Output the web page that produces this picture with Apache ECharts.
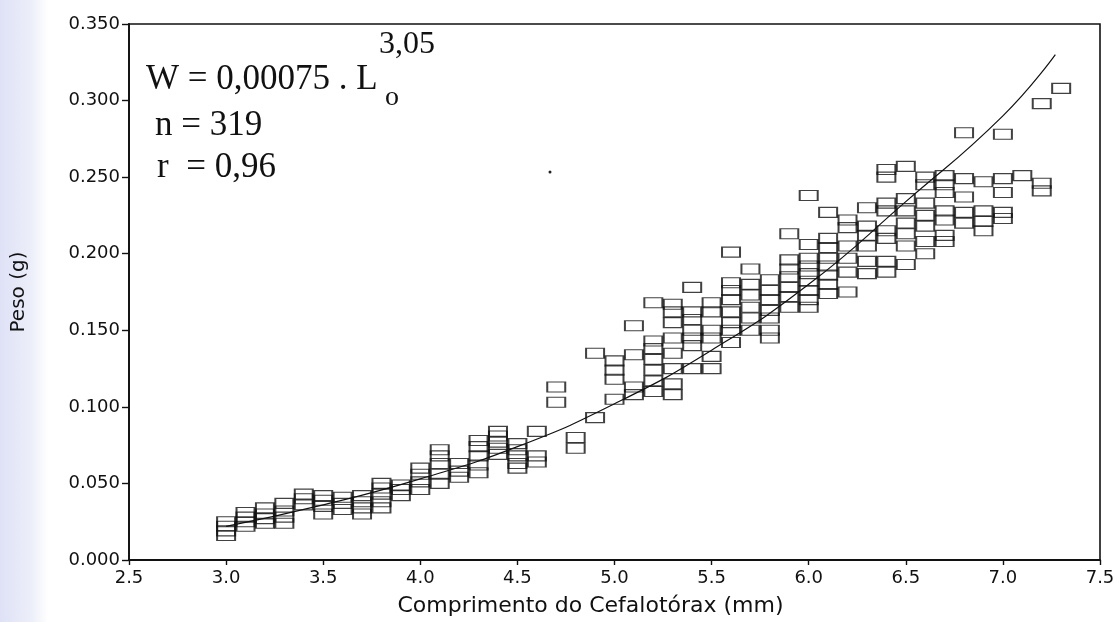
<!DOCTYPE html>
<html>
<head>
<meta charset="utf-8">
<script src="https://cdn.jsdelivr.net/npm/echarts@6/dist/echarts.min.js"></script>
<style>html,body{margin:0;padding:0;background:#fff;}#c{width:1119px;height:622px;}</style>
</head>
<body>
<div id="c"></div>
<script>
// Carapace length classes (mm)
const lengths = [3.0,3.1,3.2,3.3,3.4,3.5,3.6,3.7,3.8,3.9,4.0,4.1,4.2,4.3,4.4,4.5,4.6,4.7,4.8,4.9,5.0,5.1,5.2,5.3,5.4,5.5,5.6,5.7,5.8,5.9,6.0,6.1,6.2,6.3,6.4,6.5,6.6,6.7,6.8,6.9,7.0,7.1,7.2,7.3];
// Weights (g) observed for each length class, same order as lengths
const weights = [
  [0.016,0.019,0.022,0.025],
  [0.022,0.025,0.028,0.031],
  [0.024,0.027,0.030,0.034],
  [0.024,0.028,0.032,0.037],
  [0.036,0.040,0.043],
  [0.030,0.035,0.039,0.042],
  [0.033,0.037,0.041],
  [0.030,0.034,0.038,0.042],
  [0.034,0.038,0.043,0.047,0.050],
  [0.042,0.046,0.049],
  [0.046,0.051,0.056,0.060],
  [0.050,0.056,0.063,0.068,0.072],
  [0.054,0.058,0.063],
  [0.057,0.062,0.068,0.074,0.078],
  [0.069,0.073,0.077,0.081,0.084],
  [0.060,0.063,0.068,0.072,0.076],
  [0.064,0.068,0.084],
  [0.103,0.113],
  [0.073,0.080],
  [0.093,0.135],
  [0.105,0.118,0.124,0.130],
  [0.108,0.113,0.134,0.153],
  [0.110,0.117,0.124,0.131,0.138,0.143,0.168],
  [0.108,0.115,0.125,0.135,0.145,0.155,0.162,0.167],
  [0.125,0.140,0.145,0.150,0.157,0.162,0.178],
  [0.125,0.133,0.145,0.150,0.162,0.168],
  [0.142,0.150,0.155,0.162,0.170,0.176,0.181,0.201],
  [0.150,0.158,0.165,0.173,0.180,0.190],
  [0.145,0.150,0.158,0.163,0.170,0.176,0.183],
  [0.165,0.172,0.178,0.185,0.190,0.196,0.213],
  [0.165,0.170,0.176,0.182,0.187,0.192,0.197,0.206,0.238],
  [0.174,0.180,0.186,0.192,0.197,0.204,0.210,0.227],
  [0.175,0.188,0.197,0.205,0.217,0.222],
  [0.187,0.195,0.205,0.212,0.218,0.230],
  [0.188,0.195,0.210,0.215,0.228,0.233,0.250,0.255],
  [0.193,0.205,0.213,0.220,0.228,0.236,0.257],
  [0.200,0.208,0.218,0.225,0.233,0.245,0.250],
  [0.208,0.212,0.222,0.228,0.240,0.245,0.251],
  [0.220,0.227,0.237,0.249,0.279],
  [0.215,0.221,0.228,0.247],
  [0.223,0.227,0.240,0.249,0.278],
  [0.251],
  [0.241,0.246,0.298],
  [0.308]
];
// Fitted curve
const curveX = [3.0,3.5,4.0,4.5,5.0,5.5,6.0,6.5,7.0,7.27];
const curveY = [0.022,0.036,0.053,0.074,0.102,0.137,0.180,0.234,0.290,0.330];
const xTicks = {min:2.5,max:7.5,step:0.5};
const yTicks = {min:0,max:0.35,step:0.05};

const points = [];
lengths.forEach((L,i)=>weights[i].forEach(w=>points.push([L,w])));
const curve = curveX.map((x,i)=>[x,curveY[i]]);

const chart = echarts.init(document.getElementById('c'));
const axisColor = '#111';
const sans = '"DejaVu Sans", Verdana, sans-serif';
const serif = '"Liberation Serif", "Times New Roman", serif';
chart.setOption({
  animation:false,
  backgroundColor:'#fff',
  grid:{left:129,right:19,top:24,bottom:62,show:true,borderColor:axisColor,borderWidth:1.6,backgroundColor:'transparent'},
  xAxis:{type:'value',min:xTicks.min,max:xTicks.max,interval:xTicks.step,
    name:'Comprimento do Cefalotórax (mm)',nameLocation:'middle',nameGap:35,
    nameTextStyle:{fontFamily:sans,fontSize:22,color:'#111',padding:[0,48,0,0]},
    axisLine:{show:true,onZero:false,lineStyle:{color:axisColor,width:1.8}},
    axisTick:{show:true,inside:false,length:5,lineStyle:{color:axisColor,width:1.4}},
    axisLabel:{margin:9,fontFamily:sans,fontSize:18,color:'#111',formatter:v=>v.toFixed(1)},
    splitLine:{show:false}},
  yAxis:{type:'value',min:yTicks.min,max:yTicks.max,interval:yTicks.step,
    name:'Peso (g)',nameLocation:'middle',nameGap:100,
    nameTextStyle:{fontFamily:sans,fontSize:20,color:'#111'},
    axisLine:{show:true,onZero:false,lineStyle:{color:axisColor,width:1.8}},
    axisTick:{show:true,inside:false,length:7,lineStyle:{color:axisColor,width:1.4}},
    axisLabel:{margin:9,fontFamily:sans,fontSize:18,color:'#111',formatter:v=>v.toFixed(3)},
    splitLine:{show:false}},
  graphic:[
    {type:'rect',left:0,top:0,z:-10,shape:{width:48,height:622},
      style:{fill:new echarts.graphic.LinearGradient(0,0,1,0,[{offset:0,color:'#dfe2f6'},{offset:0.65,color:'#eceef9'},{offset:1,color:'#ffffff'}])}},
    {type:'text',left:146,top:62,style:{text:'W = 0,00075 . L',font:'35px '+serif,fill:'#111'}},
    {type:'text',left:385,top:84,style:{text:'o',font:'28px '+serif,fill:'#111'}},
    {type:'text',left:379,top:29,style:{text:'3,05',font:'32px '+serif,fill:'#111'}},
    {type:'text',left:155,top:108,style:{text:'n = 319',font:'35px '+serif,fill:'#111'}},
    {type:'text',left:157,top:150,style:{text:'r  = 0,96',font:'35px '+serif,fill:'#111'}},
    {type:'circle',shape:{cx:550,cy:172,r:1.5},style:{fill:'#222'}}
  ],
  series:[
    {type:'scatter',data:points,symbol:'rect',symbolSize:[18,10],
      itemStyle:{color:'rgba(255,255,255,0)',borderColor:'#111',borderWidth:1.5},z:2},
    {type:'line',data:curve,smooth:true,symbol:'none',
      lineStyle:{color:'#111',width:1.2},z:3}
  ]
});
</script>
</body>
</html>
